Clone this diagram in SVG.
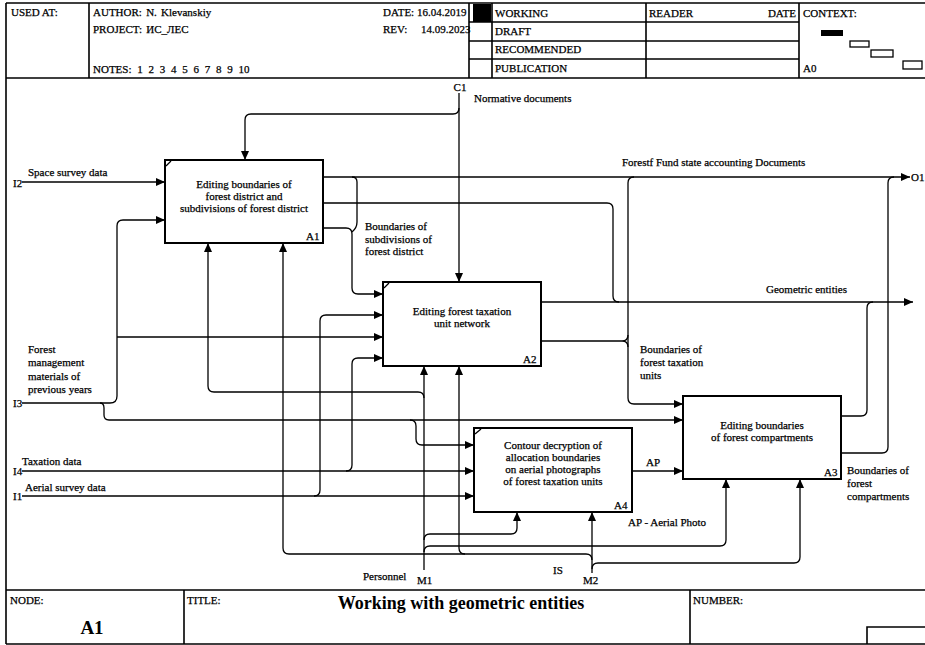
<svg xmlns="http://www.w3.org/2000/svg" width="925" height="645" viewBox="0 0 925 645">
  <style>
    .t { font-family: "Liberation Serif", "Times New Roman", serif; font-size: 11px; fill: #000; stroke: #000; stroke-width: 0.25; }
    .c { text-anchor: middle; }
    .box { fill: #fff; stroke: #000; stroke-width: 2; }
    .ln { fill: none; stroke: #000; stroke-width: 1.3; }
    .fr { fill: none; stroke: #000; stroke-width: 1.6; }
    .title { font-family: "Liberation Serif", "Times New Roman", serif; font-weight: bold; fill: #000; }
  </style>
  <defs>
    <marker id="arr" markerUnits="userSpaceOnUse" markerWidth="9" markerHeight="8" refX="9" refY="4" orient="auto">
      <path d="M0,0 L9,4 L0,8 z" fill="#000"/>
    </marker>
  </defs>
  <rect width="925" height="645" fill="#fff"/>

  <!-- Form frame: header and footer -->
  <g id="frame">
    <path class="fr" d="M6 3 H925 M6 3 V644 M6 644 H925 M6 78 H925 M6 590 H925"/>
    <path class="fr" d="M89 3 V78 M469 3 V78 M492 3 V78 M646 3 V78 M799 3 V78"/>
    <path class="fr" d="M469 22 H799 M469 41 H799 M469 59 H799"/>
    <rect x="473" y="4" width="18" height="18" fill="#000"/>
    <path class="fr" d="M184 590 V644 M690 590 V644 M867 644 V627 H925"/>
    <rect x="821" y="30" width="22" height="6" fill="#000"/>
    <rect x="850" y="41" width="19" height="6" fill="none" stroke="#000" stroke-width="1.3"/>
    <rect x="871" y="50" width="22" height="7" fill="none" stroke="#000" stroke-width="1.3"/>
    <rect x="903" y="61" width="19" height="8" fill="none" stroke="#000" stroke-width="1.3"/>

    <text class="t" x="11" y="16">USED AT:</text>
    <text class="t" x="93" y="16" word-spacing="1.5">AUTHOR: N. Klevanskiy</text>
    <text class="t" x="93" y="33" word-spacing="1.5">PROJECT: ИС_ЛЕС</text>
    <text class="t" x="93" y="73" word-spacing="3">NOTES: 1 2 3 4 5 6 7 8 9 10</text>
    <text class="t" x="383" y="16">DATE: 16.04.2019</text>
    <text class="t" x="383" y="33">REV:</text>
    <text class="t" x="421" y="33">14.09.2023</text>
    <text class="t" x="495" y="17">WORKING</text>
    <text class="t" x="495" y="35">DRAFT</text>
    <text class="t" x="495" y="53">RECOMMENDED</text>
    <text class="t" x="495" y="72">PUBLICATION</text>
    <text class="t" x="649" y="17">READER</text>
    <text class="t" x="796" y="17" text-anchor="end">DATE</text>
    <text class="t" x="803" y="17">CONTEXT:</text>
    <text class="t" x="803" y="72">A0</text>

    <text class="t" x="10" y="604">NODE:</text>
    <text class="title" x="92" y="634" font-size="19" text-anchor="middle">A1</text>
    <text class="t" x="187" y="604">TITLE:</text>
    <text class="title" x="461" y="609" font-size="18" text-anchor="middle">Working with geometric entities</text>
    <text class="t" x="693" y="604">NUMBER:</text>
  </g>

  <!-- Arrows between activities -->
  <g id="connectors">
    <!-- C1 control -->
    <path class="ln" d="M459 93 V282" marker-end="url(#arr)"/>
    <path class="ln" d="M459 108 Q459 114 453 114 H251 Q245 114 245 120 V160" marker-end="url(#arr)"/>
    <!-- I2 -->
    <path class="ln" d="M22 182 H165" marker-end="url(#arr)"/>
    <!-- I3 -->
    <path class="ln" d="M22 403 H110 Q117 403 117 396 V226 Q117 220 123 220 H165" marker-end="url(#arr)"/>
    <path class="ln" d="M117 337 H383" marker-end="url(#arr)"/>
    <path class="ln" d="M100 403 Q104 403 104 408 V415 Q104 420 109 420 H683" marker-end="url(#arr)"/>
    <path class="ln" d="M410 420 Q416 420 416 426 V439 Q416 445 422 445 H474" marker-end="url(#arr)"/>
    <!-- I4 -->
    <path class="ln" d="M22 471 H474" marker-end="url(#arr)"/>
    <path class="ln" d="M346 471 Q352 471 352 465 V364 Q352 358 358 358 H383" marker-end="url(#arr)"/>
    <!-- I1 -->
    <path class="ln" d="M22 496 H474" marker-end="url(#arr)"/>
    <path class="ln" d="M314 496 Q320 496 320 490 V321 Q320 315 326 315 H383" marker-end="url(#arr)"/>
    <!-- A1 outputs -->
    <path class="ln" d="M323 177 H910" marker-end="url(#arr)"/>
    <path class="ln" d="M323 203 H607 Q613 203 613 209 V296 Q613 302 619 302"/>
    <path class="ln" d="M323 228 H346 Q352 228 352 234 V288 Q352 294 358 294 H383" marker-end="url(#arr)"/>
    <path class="ln" d="M352 177 Q357 177 357 182 V222 Q357 228 352 232"/>
    <!-- A2 outputs -->
    <path class="ln" d="M541 302 H913" marker-end="url(#arr)"/>
    <path class="ln" d="M541 341 H622 Q628 341 628 335 M622 341 Q628 341 628 347"/>
    <path class="ln" d="M634 177 Q628 177 628 183 V398 Q628 404 634 404 H683" marker-end="url(#arr)"/>
    <!-- A3 outputs -->
    <path class="ln" d="M841 416 H861 Q867 416 867 410 V308 Q867 302 873 302"/>
    <path class="ln" d="M841 453 H882 Q888 453 888 447 V183 Q888 177 894 177"/>
    <!-- AP -->
    <path class="ln" d="M632 471 H683" marker-end="url(#arr)"/>
    <!-- M1 mechanism -->
    <path class="ln" d="M424 570 V366" marker-end="url(#arr)"/>
    <path class="ln" d="M424 398 Q424 392 418 392 H214 Q208 392 208 386 V243" marker-end="url(#arr)"/>
    <path class="ln" d="M424 540 Q424 534 430 534 H511 Q517 534 517 528 V512" marker-end="url(#arr)" stroke-width="2"/>
    <path class="ln" d="M424 552 Q424 546 430 546 H720 Q726 546 726 540 V479" marker-end="url(#arr)"/>
    <!-- M2 mechanism -->
    <path class="ln" d="M592 573 V512" marker-end="url(#arr)"/>
    <path class="ln" d="M592 560 Q592 554 586 554 H289 Q283 554 283 548 V243" marker-end="url(#arr)"/>
    <path class="ln" d="M465 554 Q459 554 459 548 V366" marker-end="url(#arr)"/>
    <path class="ln" d="M592 569 Q592 563 598 563 H794 Q800 563 800 557 V479" marker-end="url(#arr)"/>

    <!-- arrow labels -->
    <text class="t" x="460" y="91" text-anchor="middle">C1</text>
    <text class="t" x="474" y="102">Normative documents</text>
    <text class="t" x="13" y="187">I2</text>
    <text class="t" x="28" y="176">Space survey data</text>
    <text class="t" x="13" y="407">I3</text>
    <text class="t" x="28" y="353">Forest</text>
    <text class="t" x="28" y="366">management</text>
    <text class="t" x="28" y="380">materials of</text>
    <text class="t" x="28" y="393">previous years</text>
    <text class="t" x="13" y="475">I4</text>
    <text class="t" x="22" y="465">Taxation data</text>
    <text class="t" x="13" y="500">I1</text>
    <text class="t" x="25" y="491">Aerial survey data</text>
    <text class="t" x="911" y="181" font-size="10">O1</text>
    <text class="t" x="622" y="166">Forestf Fund state accounting Documents</text>
    <text class="t" x="365" y="230">Boundaries of</text>
    <text class="t" x="365" y="243">subdivisions of</text>
    <text class="t" x="365" y="255">forest district</text>
    <text class="t" x="766" y="293">Geometric entities</text>
    <text class="t" x="640" y="353">Boundaries of</text>
    <text class="t" x="640" y="366">forest taxation</text>
    <text class="t" x="640" y="379">units</text>
    <text class="t" x="646" y="466">AP</text>
    <text class="t" x="847" y="474">Boundaries of</text>
    <text class="t" x="847" y="487">forest</text>
    <text class="t" x="847" y="500">compartments</text>
    <text class="t" x="628" y="526">AP - Aerial Photo</text>
    <text class="t" x="363" y="580">Personnel</text>
    <text class="t" x="417" y="584">M1</text>
    <text class="t" x="553" y="574">IS</text>
    <text class="t" x="583" y="584">M2</text>
  </g>

  <!-- Activities -->
  <g id="A1">
    <rect class="box" x="165" y="160" width="158" height="83"/>
    <path class="ln" d="M166 166 L171 161"/>
    <text class="t c" x="244" y="188">Editing boundaries of</text>
    <text class="t c" x="244" y="200">forest district and</text>
    <text class="t c" x="244" y="212">subdivisions of forest district</text>
    <text class="t" x="306" y="240">A1</text>
  </g>
  <g id="A2">
    <rect class="box" x="383" y="282" width="158" height="84"/>
    <path class="ln" d="M384 288 L389 283"/>
    <text class="t c" x="462" y="315">Editing forest taxation</text>
    <text class="t c" x="462" y="327">unit network</text>
    <text class="t" x="523" y="363">A2</text>
  </g>
  <g id="A3">
    <rect class="box" x="683" y="396" width="158" height="83"/>
    <text class="t c" x="762" y="429">Editing boundaries</text>
    <text class="t c" x="762" y="441">of forest compartments</text>
    <text class="t" x="824" y="476">A3</text>
  </g>
  <g id="A4">
    <rect class="box" x="474" y="428" width="158" height="84"/>
    <path class="ln" d="M475 434 L481 429"/>
    <text class="t c" x="553" y="449">Contour decryption of</text>
    <text class="t c" x="553" y="461">allocation boundaries</text>
    <text class="t c" x="553" y="473">on aerial photographs</text>
    <text class="t c" x="553" y="485">of forest taxation units</text>
    <text class="t" x="614" y="509">A4</text>
  </g>
</svg>
